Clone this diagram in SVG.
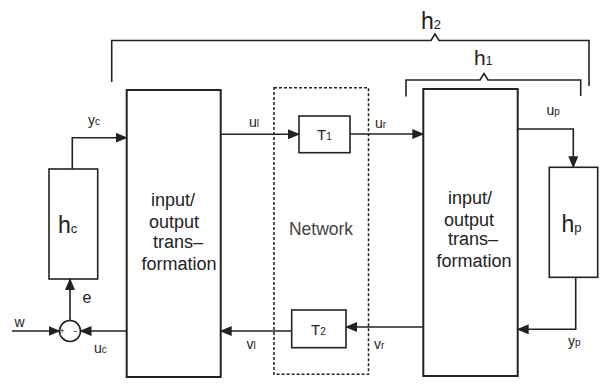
<svg xmlns="http://www.w3.org/2000/svg" width="610" height="386" viewBox="0 0 610 386">
<defs>
<marker id="ah" markerUnits="userSpaceOnUse" markerWidth="12" markerHeight="10" refX="11" refY="5" orient="auto">
<path d="M0,0 L12,5 L0,10 Z" fill="#222"/>
</marker>
<style>
.box{fill:#fff;stroke:#222;stroke-width:2}
.sbox{fill:#fff;stroke:#222;stroke-width:1.6}
.line{fill:none;stroke:#222;stroke-width:1.6}
.arr{fill:none;stroke:#222;stroke-width:1.6;marker-end:url(#ah)}
.br{fill:none;stroke:#222;stroke-width:1.6}
text{font-family:"Liberation Sans",Arial,sans-serif;fill:#222}
.big{font-size:18px;text-anchor:middle}
.lab{font-size:14px}
.sub{font-size:10px}
</style>
</defs>
<rect width="610" height="386" fill="#fff"/>

<g id="brackets">
<path class="br" d="M111.7,82 V40.5 H431 L435,34 L439,40.5 H589 V86"/>
<path class="br" d="M406,96.5 V80 H480 L484,73.5 L488,80 H580.7 V96"/>
<text x="421" y="29" font-size="23">h<tspan font-size="13">2</tspan></text>
<text x="474" y="65" font-size="21">h<tspan font-size="12">1</tspan></text>
</g>

<g id="network">
<rect x="274" y="87.7" width="94.5" height="286.6" fill="none" stroke="#222" stroke-width="1.5" stroke-dasharray="3,2"/>
<text x="321" y="235" font-size="17.5" text-anchor="middle" style="fill:#444">Network</text>
</g>

<g id="left-io">
<rect class="box" x="126.7" y="90" width="94" height="287"/>
<text class="big" x="173" y="206">input/</text>
<text class="big" x="174" y="228">output</text>
<text class="big" x="178" y="248">trans–</text>
<text class="big" x="179" y="270">formation</text>
</g>

<g id="right-io">
<rect class="box" x="423.3" y="89" width="94.4" height="287"/>
<text class="big" x="470" y="204">input/</text>
<text class="big" x="469" y="226">output</text>
<text class="big" x="473" y="245">trans–</text>
<text class="big" x="474" y="267">formation</text>
</g>

<g id="hc">
<rect class="sbox" x="49" y="169" width="48.7" height="110"/>
<text x="58" y="233" font-size="23">h<tspan font-size="13">c</tspan></text>
</g>

<g id="hp">
<rect class="sbox" x="549.3" y="167.3" width="48.4" height="110"/>
<text x="561.5" y="232" font-size="23">h<tspan font-size="13">p</tspan></text>
</g>

<g id="T1">
<rect class="sbox" x="299" y="116" width="51" height="36.7"/>
<text x="317" y="140" font-size="15">T<tspan font-size="10">1</tspan></text>
</g>

<g id="T2">
<rect class="sbox" x="291.7" y="310" width="54.3" height="37.7"/>
<text x="311" y="335" font-size="15">T<tspan font-size="10">2</tspan></text>
</g>

<g id="sum">
<circle cx="70" cy="331" r="10.5" fill="#fff" stroke="#222" stroke-width="1.6"/>
<text x="59.5" y="334" font-size="9">+</text>
<text x="73.5" y="334" font-size="10">-</text>
</g>

<g id="connectors">
<path class="arr" d="M72.3,169 V137.7 H126.7"/>
<path class="arr" d="M220.7,134.3 H299"/>
<path class="arr" d="M350,134 H423.3"/>
<path class="arr" d="M517.7,129 H573.3 V167.3"/>
<path class="arr" d="M575.7,277.3 V329.3 H517.7"/>
<path class="arr" d="M423.3,327 H346"/>
<path class="arr" d="M291.7,331 H220.7"/>
<path class="arr" d="M126.7,331 H80.5"/>
<path class="arr" d="M12,331 H59.5"/>
<path class="arr" d="M70,320.5 V279"/>
</g>

<g id="labels">
<text class="lab" x="88" y="125">y<tspan class="sub">c</tspan></text>
<text class="lab" x="249" y="127">u<tspan class="sub">l</tspan></text>
<text class="lab" x="375" y="128">u<tspan class="sub">r</tspan></text>
<text class="lab" x="546.5" y="115">u<tspan class="sub">p</tspan></text>
<text class="lab" x="568" y="346">y<tspan class="sub">p</tspan></text>
<text class="lab" x="374" y="349">v<tspan class="sub">r</tspan></text>
<text class="lab" x="246.5" y="349">v<tspan class="sub">l</tspan></text>
<text class="lab" x="94" y="353">u<tspan class="sub">c</tspan></text>
<text class="lab" x="14.5" y="327">w</text>
<text x="82.5" y="303" font-size="16">e</text>
</g>
</svg>
